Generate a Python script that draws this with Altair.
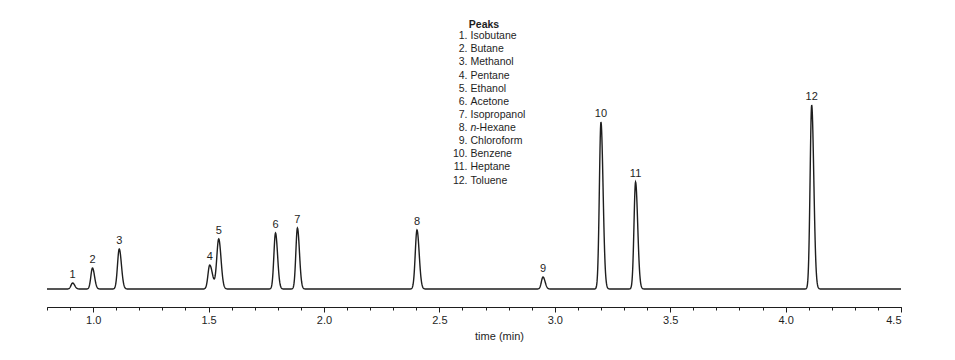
import numpy as np
import pandas as pd
import altair as alt

# ---- data ----
peak_ids = [1, 2, 3, 4, 5, 6, 7, 8, 9, 10, 11, 12]
peak_names = ["Isobutane", "Butane", "Methanol", "Pentane", "Ethanol", "Acetone",
              "Isopropanol", "n-Hexane", "Chloroform", "Benzene", "Heptane", "Toluene"]
peak_times = [0.911, 0.997, 1.113, 1.505, 1.544, 1.790, 1.885, 2.403, 2.949, 3.200, 3.350, 4.113]
peak_heights = [6, 21, 40, 24, 50, 56, 61, 59, 12, 167, 107, 184]
sigma_left = [0.0070, 0.0070, 0.0075, 0.0075, 0.0085, 0.0070, 0.0068, 0.0075, 0.0070, 0.0068, 0.0068, 0.0068]
sigma_right = [0.0090, 0.0090, 0.0095, 0.0120, 0.0100, 0.0090, 0.0088, 0.0095, 0.0090, 0.0092, 0.0092, 0.0092]
x_ticks_major = [1.0, 1.5, 2.0, 2.5, 3.0, 3.5, 4.0, 4.5]
x_ticks_minor = [round(0.8 + 0.1 * i, 1) for i in range(38)]

FONT = "'Liberation Sans Narrow', 'Arial Narrow', 'Liberation Sans', Arial, sans-serif"
FS = 10.5
INK = "#1e1e1e"

# ---- build the chromatogram trace from the peak table ----
t = np.round(np.arange(0.8, 4.5005, 0.001), 4)
signal = np.zeros_like(t)
for tr, h, sl, sr in zip(peak_times, peak_heights, sigma_left, sigma_right):
    s = np.where(t < tr, sl, sr)
    signal += h * np.exp(-0.5 * ((t - tr) / s) ** 2)
trace = pd.DataFrame({"time": t, "signal": signal})

peaks = pd.DataFrame({"id": [str(i) for i in peak_ids], "time": peak_times, "height": peak_heights})

legend = pd.DataFrame({
    "row": peak_ids,
    "num": [f"{i}." for i in peak_ids],
    "name": peak_names,
})
legend_plain = legend[~legend["name"].str.startswith("n-")]
legend_italic = legend[legend["name"].str.startswith("n-")].assign(
    pre=lambda d: d["name"].str.slice(0, 1), rest=lambda d: d["name"].str.slice(1))
legend_title = pd.DataFrame({"row": [0], "txt": ["Peaks"]})

W, H = 854, 297
xscale = alt.Scale(domain=[0.8, 4.5], nice=False, zero=False)
yscale = alt.Scale(domain=[-18, 279], nice=False, zero=False)
lscale = alt.Scale(domain=[0, 12], range=[13.0, 170.5])

line = alt.Chart(trace).mark_line(color=INK, strokeWidth=1.4, interpolate="linear").encode(
    x=alt.X("time:Q", scale=xscale,
            axis=alt.Axis(values=x_ticks_minor, labels=False, tickSize=3, title=None,
                          grid=False, domainColor=INK, tickColor=INK, orient="bottom")),
    y=alt.Y("signal:Q", scale=yscale, axis=None),
)

labels = alt.Chart(peaks).mark_text(font=FONT, fontSize=11, color=INK, baseline="bottom", dy=-3).encode(
    x=alt.X("time:Q", scale=xscale,
            axis=alt.Axis(values=x_ticks_major, format=".1f", tickSize=5, grid=False,
                          domainColor=INK, tickColor=INK, labelColor=INK, labelFont=FONT,
                          labelFontSize=11, labelPadding=2, title="time (min)",
                          titleFont=FONT, titleFontSize=11, titleFontWeight="normal",
                          titleColor=INK, titleX=452, titleY=23, titleAlign="center",
                          titleBaseline="top", orient="bottom")),
    y=alt.Y("height:Q", scale=yscale, axis=None),
    text="id:N",
)

NUM_X = 420.5
NAME_X = 423.5
ly = alt.Y("row:Q", scale=lscale, axis=None)

leg_title = alt.Chart(legend_title).mark_text(
    font=FONT, fontSize=FS, fontWeight="bold", color=INK, baseline="middle", align="center", dy=2
).encode(x=alt.value(437), y=ly, text="txt:N")

leg_num = alt.Chart(legend).mark_text(
    font=FONT, fontSize=FS, color=INK, baseline="middle", align="right"
).encode(x=alt.value(NUM_X), y=ly, text="num:N")

leg_name = alt.Chart(legend_plain).mark_text(
    font=FONT, fontSize=FS, color=INK, baseline="middle", align="left"
).encode(x=alt.value(NAME_X), y=ly, text="name:N")

leg_it1 = alt.Chart(legend_italic).mark_text(
    font=FONT, fontSize=FS, fontStyle="italic", color=INK, baseline="middle", align="left"
).encode(x=alt.value(NAME_X), y=ly, text="pre:N")

leg_it2 = alt.Chart(legend_italic).mark_text(
    font=FONT, fontSize=FS, color=INK, baseline="middle", align="left", dx=5.6
).encode(x=alt.value(NAME_X), y=ly, text="rest:N")

legend_layer = alt.layer(leg_title, leg_num, leg_name, leg_it1, leg_it2)

chart = alt.layer(line, labels, legend_layer).resolve_scale(
    y="independent"
).resolve_axis(x="independent").properties(
    width=W, height=H,
    padding={"left": 36, "top": 2, "right": 20, "bottom": 5},
).configure(background="white").configure_view(stroke=None)

chart.save("out.html", embed_options={"renderer": "svg", "actions": False})
